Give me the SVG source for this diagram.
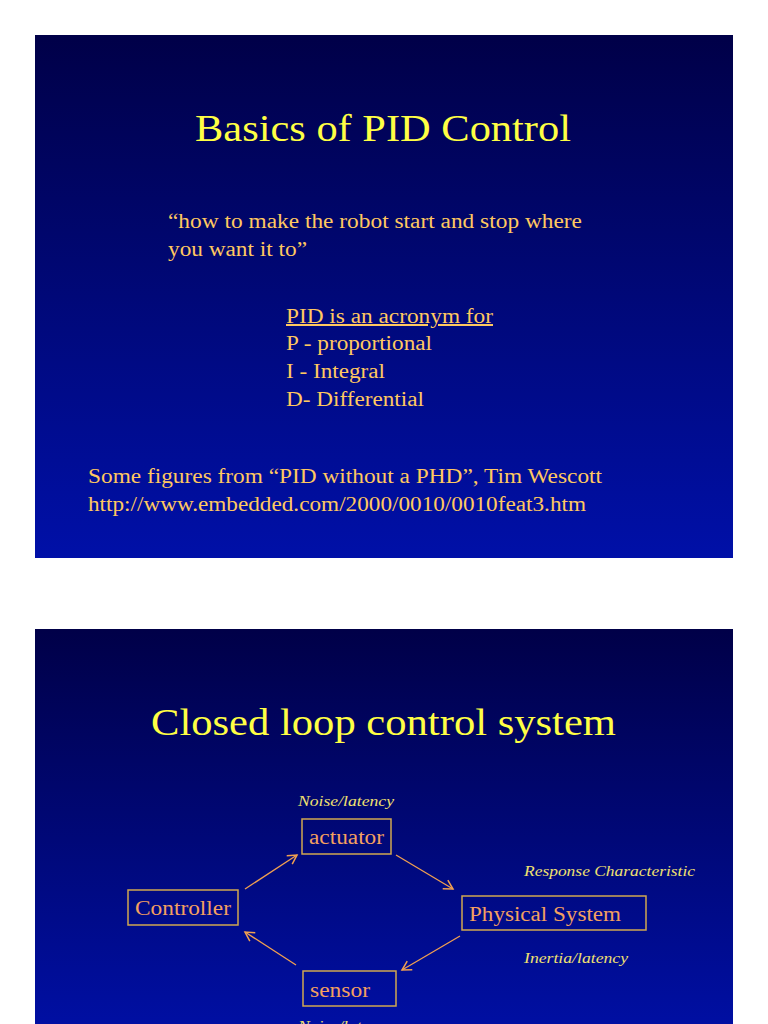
<svg xmlns="http://www.w3.org/2000/svg" width="768" height="1024" viewBox="0 0 768 1024">
<defs>
<linearGradient id="bg" x1="0" y1="0" x2="0" y2="1">
<stop offset="0" stop-color="#000048"/><stop offset="1" stop-color="#0010a8"/>
</linearGradient>
<marker id="ah" markerWidth="12" markerHeight="12" refX="10" refY="6" orient="auto" markerUnits="userSpaceOnUse">
<path d="M1,1 L10,6 L1,11" fill="none" stroke="#f0a050" stroke-width="1.5"/>
</marker>
<style>
text{font-family:"Liberation Serif",serif}
.title{fill:#ffff44;font-size:38px}
.body{fill:#ffc860;font-size:20px}
.lab{fill:#f0e070;font-size:15px;font-style:italic}
.nt{fill:#f4a060;font-size:20px}
.box{fill:none;stroke:#d0a850;stroke-width:1.5}
.con{stroke:#f0a050;stroke-width:1.3;fill:none;marker-end:url(#ah)}
</style>
</defs>
<rect width="768" height="1024" fill="#fff"/>
<rect x="35" y="35" width="698" height="523" fill="url(#bg)"/>
<rect x="35" y="629" width="698" height="420" fill="url(#bg)"/>
<text class="title" x="195" y="141" textLength="376" lengthAdjust="spacingAndGlyphs">Basics of PID Control</text>
<text class="body" x="168" y="228" textLength="414" lengthAdjust="spacingAndGlyphs">“how to make the robot start and stop where</text>
<text class="body" x="168" y="256" textLength="139" lengthAdjust="spacingAndGlyphs">you want it to”</text>
<text class="body" x="286" y="323" textLength="207" lengthAdjust="spacingAndGlyphs" text-decoration="underline">PID is an acronym for</text>
<text class="body" x="286" y="350" textLength="146" lengthAdjust="spacingAndGlyphs">P - proportional</text>
<text class="body" x="286" y="378" textLength="99" lengthAdjust="spacingAndGlyphs">I - Integral</text>
<text class="body" x="286" y="406" textLength="138" lengthAdjust="spacingAndGlyphs">D- Differential</text>
<text class="body" x="88" y="483" textLength="514" lengthAdjust="spacingAndGlyphs">Some figures from “PID without a PHD”, Tim Wescott</text>
<text class="body" x="88" y="511" textLength="498" lengthAdjust="spacingAndGlyphs">http://www.embedded.com/2000/0010/0010feat3.htm</text>
<text class="title" x="151" y="735" textLength="465" lengthAdjust="spacingAndGlyphs">Closed loop control system</text>
<text class="lab" x="298" y="806" textLength="96" lengthAdjust="spacingAndGlyphs">Noise/latency</text>
<text class="lab" x="524" y="876" textLength="171" lengthAdjust="spacingAndGlyphs">Response Characteristic</text>
<text class="lab" x="524" y="963" textLength="104" lengthAdjust="spacingAndGlyphs">Inertia/latency</text>
<text class="lab" x="298" y="1031" textLength="96" lengthAdjust="spacingAndGlyphs">Noise/latency</text>
<g id="actuator"><rect class="box" x="302" y="819" width="89" height="35"/><text class="nt" x="309" y="844" textLength="75" lengthAdjust="spacingAndGlyphs">actuator</text></g>
<g id="controller"><rect class="box" x="128" y="890" width="110" height="35"/><text class="nt" x="135" y="915" textLength="96" lengthAdjust="spacingAndGlyphs">Controller</text></g>
<g id="physical"><rect class="box" x="462" y="896" width="184" height="34"/><text class="nt" x="469" y="921" textLength="152" lengthAdjust="spacingAndGlyphs">Physical System</text></g>
<g id="sensor"><rect class="box" x="303" y="971" width="93" height="35"/><text class="nt" x="310" y="997" textLength="60" lengthAdjust="spacingAndGlyphs">sensor</text></g>
<g id="connectors">
<line class="con" x1="245" y1="889" x2="297" y2="855"/>
<line class="con" x1="396" y1="855" x2="453" y2="889"/>
<line class="con" x1="460" y1="936" x2="402" y2="970"/>
<line class="con" x1="296" y1="965" x2="245" y2="932"/>
</g>
</svg>
